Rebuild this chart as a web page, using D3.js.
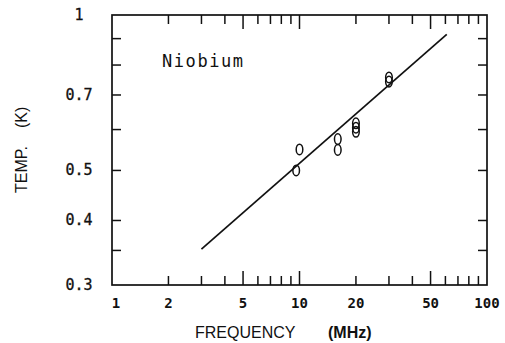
<!DOCTYPE html>
<html><head><meta charset="utf-8">
<script src="https://cdn.jsdelivr.net/npm/d3@7"></script>
<style>body{margin:0;background:#fff}svg{display:block}</style>
</head><body>
<script>
// Data
const freqMHz = [9.6, 10, 16, 16, 20, 20, 20, 30, 30];
const tempK   = [0.50, 0.549, 0.575, 0.548, 0.617, 0.605, 0.594, 0.757, 0.743];
const fitFreq = [3, 61];
const fitTemp = [0.352, 0.917];
const xTickLabels = [1, 2, 5, 10, 20, 50, 100];
const xMinorTicks = [2,3,4,6,7,8,9,20,30,40,60,70,80,90];
const xMajorTicks = [5,10,50];
const yTickLabels = [0.3, 0.4, 0.5, 0.7, 1];
const yTicks = [0.35,0.4,0.5,0.6,0.7,0.8,0.9];

const W=505,H=343;
const svg=d3.select("body").append("svg").attr("width",W).attr("height",H);
const x=d3.scaleLog().domain([1,100]).range([112,487]);
const y=d3.scaleLog().domain([0.3,1]).range([285,15]);
const ink="#111";

// frame
svg.append("rect").attr("x",x(1)).attr("y",y(1)).attr("width",x(100)-x(1)).attr("height",y(0.3)-y(1))
  .attr("fill","none").attr("stroke",ink).attr("stroke-width",1.7);

// x ticks (bottom & top)
const xt=[...xMinorTicks.map(v=>({v,l:9})),...xMajorTicks.map(v=>({v,l:14}))];
svg.selectAll(".xb").data(xt).join("line")
  .attr("x1",d=>x(d.v)).attr("x2",d=>x(d.v)).attr("y1",y(0.3)).attr("y2",d=>y(0.3)-d.l)
  .attr("stroke",ink).attr("stroke-width",1.5);
svg.selectAll(".xt").data(xt).join("line")
  .attr("x1",d=>x(d.v)).attr("x2",d=>x(d.v)).attr("y1",y(1)).attr("y2",d=>y(1)+d.l)
  .attr("stroke",ink).attr("stroke-width",1.5);
// y ticks (left & right)
svg.selectAll(".yl").data(yTicks).join("line")
  .attr("x1",x(1)).attr("x2",x(1)+9).attr("y1",d=>y(d)).attr("y2",d=>y(d))
  .attr("stroke",ink).attr("stroke-width",1.5);
svg.selectAll(".yr").data(yTicks).join("line")
  .attr("x1",x(100)).attr("x2",x(100)-9).attr("y1",d=>y(d)).attr("y2",d=>y(d))
  .attr("stroke",ink).attr("stroke-width",1.5);

// tick labels
const mono="'DejaVu Sans Mono', monospace";
svg.selectAll(".xlab").data(xTickLabels).join("text")
  .attr("x",d=>x(d)+(d===1?4:0)).attr("y",308).attr("text-anchor","middle")
  .attr("font-family",mono).attr("font-size",14).attr("font-weight","bold").attr("fill",ink)
  .text(d=>d);
svg.selectAll(".ylab").data(yTickLabels).join("text")
  .attr("x",79).attr("y",d=>y(d)+5).attr("text-anchor","middle")
  .attr("font-family",mono).attr("font-size",15).attr("fill",ink)
  .attr("stroke",ink).attr("stroke-width",0.3)
  .text(d=>d);

// axis titles
const sans="'Liberation Sans', Arial, sans-serif";
svg.append("text").attr("x",195).attr("y",338).attr("font-family",sans).attr("font-size",16).attr("fill",ink).text("FREQUENCY");
svg.append("text").attr("x",328).attr("y",338).attr("font-family",sans).attr("font-size",16).attr("font-weight","bold").attr("fill",ink).text("(MHz)");
svg.append("text").attr("transform","translate(27,193) rotate(-90)").attr("font-family",sans).attr("font-size",16).attr("fill",ink).text("TEMP.");
svg.append("text").attr("transform","translate(27,128) rotate(-90)").attr("font-family",sans).attr("font-size",16).attr("fill",ink).text("(K)");

// label
svg.append("text").attr("x",162).attr("y",67).attr("font-family",mono).attr("font-size",17)
  .attr("textLength",81).attr("lengthAdjust","spacing").attr("fill",ink).text("Niobium");

// fit line
const line=d3.line().x(d=>x(d[0])).y(d=>y(d[1]));
svg.append("path").datum(d3.zip(fitFreq,fitTemp)).attr("d",line)
  .attr("fill","none").attr("stroke",ink).attr("stroke-width",1.7);

// markers
svg.selectAll(".pt").data(d3.zip(freqMHz,tempK)).join("ellipse")
  .attr("cx",d=>x(d[0])).attr("cy",d=>y(d[1])).attr("rx",3.3).attr("ry",5.3)
  .attr("fill","none").attr("stroke",ink).attr("stroke-width",1.5);
</script>
</body></html>
